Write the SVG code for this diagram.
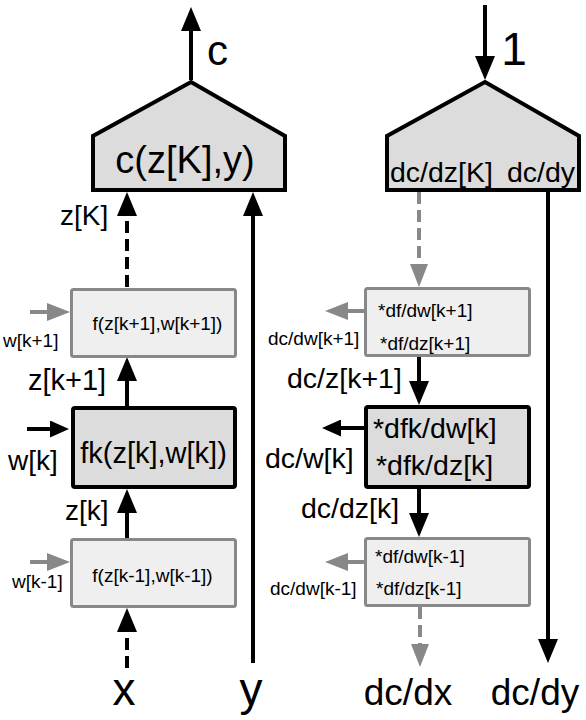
<svg xmlns="http://www.w3.org/2000/svg" width="586" height="720" viewBox="0 0 586 720">
<style>
text{font-family:"Liberation Sans",Arial,sans-serif;fill:#000}
.dark{fill:#dcdcdc;stroke:#000;stroke-width:4}
.light{fill:#efefef;stroke:#888;stroke-width:3}
.bl{stroke:#000;stroke-width:4;fill:none}
.gr{stroke:#888;stroke-width:4;fill:none}
.dash{stroke-dasharray:12 6}
.s19{font-size:19px}
.s28{font-size:28.5px}
</style>
<defs>
<marker id="ah" markerUnits="userSpaceOnUse" markerWidth="24" markerHeight="20" refX="2" refY="10" orient="auto"><path d="M0,0 L24,10 L0,20 z" fill="#000"/></marker>
<marker id="ahs" markerUnits="userSpaceOnUse" markerWidth="19" markerHeight="17" refX="2" refY="8.5" orient="auto"><path d="M0,0 L19,8.5 L0,17 z" fill="#000"/></marker>
<marker id="ag" markerUnits="userSpaceOnUse" markerWidth="23" markerHeight="18" refX="2" refY="9" orient="auto"><path d="M0,0 L23,9 L0,18 z" fill="#888"/></marker>
</defs>
<g id="connectors">
<line class="bl" x1="191" y1="80" x2="191" y2="29" marker-end="url(#ah)"/>
<line class="bl" x1="485" y1="5" x2="485" y2="58" marker-end="url(#ah)"/>
<line class="bl dash" x1="127" y1="287" x2="127" y2="214" marker-end="url(#ah)"/>
<line class="bl" x1="127" y1="406" x2="127" y2="379" marker-end="url(#ah)"/>
<line class="bl" x1="127" y1="538" x2="127" y2="511" marker-end="url(#ah)"/>
<line class="bl dash" x1="127" y1="668" x2="127" y2="630" marker-end="url(#ah)"/>
<line class="bl" x1="253" y1="663" x2="253" y2="214" marker-end="url(#ah)"/>
<line class="gr dash" x1="419" y1="192" x2="419" y2="266" marker-end="url(#ag)"/>
<line class="bl" x1="419" y1="357" x2="419" y2="383" marker-end="url(#ah)"/>
<line class="bl" x1="419" y1="489" x2="419" y2="515" marker-end="url(#ah)"/>
<line class="gr dash" x1="420" y1="607" x2="420" y2="646" marker-end="url(#ag)"/>
<line class="bl" x1="548" y1="192" x2="548" y2="641" marker-end="url(#ah)"/>
<line class="gr" x1="30" y1="312" x2="49" y2="312" marker-end="url(#ag)"/>
<line class="bl" x1="27" y1="429" x2="52" y2="429" marker-end="url(#ahs)"/>
<line class="gr" x1="30" y1="562" x2="49" y2="562" marker-end="url(#ag)"/>
<line class="gr" x1="364" y1="311" x2="346" y2="311" marker-end="url(#ag)"/>
<line class="bl" x1="364" y1="428" x2="339" y2="428" marker-end="url(#ahs)"/>
<line class="gr" x1="364" y1="562" x2="346" y2="562" marker-end="url(#ag)"/>
</g>
<g id="cost">
<path class="dark" d="M191,82 L285,136 L285,190 L93,190 L93,136 Z"/>
<text x="185" y="173" font-size="38" text-anchor="middle">c(z[K],y)</text>
</g>
<g id="cost-grad">
<path class="dark" d="M485,82 L579,136 L579,190 L387,190 L387,136 Z"/>
<text x="390" y="182" class="s28">dc/dz[K]</text>
<text x="575" y="182" class="s28" text-anchor="end">dc/dy</text>
</g>
<g id="f-k1">
<rect class="light" x="71.5" y="289.5" width="164" height="67" rx="2"/>
<text x="157.5" y="330" class="s19" text-anchor="middle">f(z[k+1],w[k+1])</text>
</g>
<g id="fk">
<rect class="dark" x="73" y="408" width="162" height="79" rx="2"/>
<text x="153.5" y="463" font-size="29" text-anchor="middle">fk(z[k],w[k])</text>
</g>
<g id="f-km1">
<rect class="light" x="71.5" y="539.5" width="164" height="67" rx="2"/>
<text x="152.5" y="582" class="s19" text-anchor="middle">f(z[k-1],w[k-1])</text>
</g>
<g id="b-k1">
<rect class="light" x="365.5" y="288.5" width="164" height="67" rx="2"/>
<text x="378" y="317" class="s19">*df/dw[k+1]</text>
<text x="380" y="350" class="s19">*df/dz[k+1]</text>
</g>
<g id="b-fk">
<rect class="dark" x="366" y="407" width="163" height="80" rx="2"/>
<text x="373" y="438" class="s28">*dfk/dw[k]</text>
<text x="376" y="475" class="s28">*dfk/dz[k]</text>
</g>
<g id="b-km1">
<rect class="light" x="365.5" y="538.5" width="164" height="67" rx="2"/>
<text x="375" y="563" class="s19">*df/dw[k-1]</text>
<text x="376" y="595" class="s19">*df/dz[k-1]</text>
</g>
<g id="labels">
<text x="207" y="65" font-size="42">c</text>
<text x="514" y="65" font-size="46" text-anchor="middle">1</text>
<text x="60" y="225" font-size="28">z[K]</text>
<text x="3" y="347" class="s19">w[k+1]</text>
<text x="28" y="390" font-size="29">z[k+1]</text>
<text x="8" y="470" font-size="28">w[k]</text>
<text x="65" y="520" font-size="28">z[k]</text>
<text x="12" y="588" class="s19">w[k-1]</text>
<text x="268" y="345" class="s19">dc/dw[k+1]</text>
<text x="287" y="388" class="s28">dc/z[k+1]</text>
<text x="265" y="468" class="s28">dc/w[k]</text>
<text x="301" y="518" class="s28">dc/dz[k]</text>
<text x="270" y="595" class="s19">dc/dw[k-1]</text>
<text x="124" y="705" font-size="46" text-anchor="middle">x</text>
<text x="251" y="705" font-size="46" text-anchor="middle">y</text>
<text x="408" y="705" font-size="37" text-anchor="middle">dc/dx</text>
<text x="535" y="705" font-size="37" text-anchor="middle">dc/dy</text>
</g>
</svg>
